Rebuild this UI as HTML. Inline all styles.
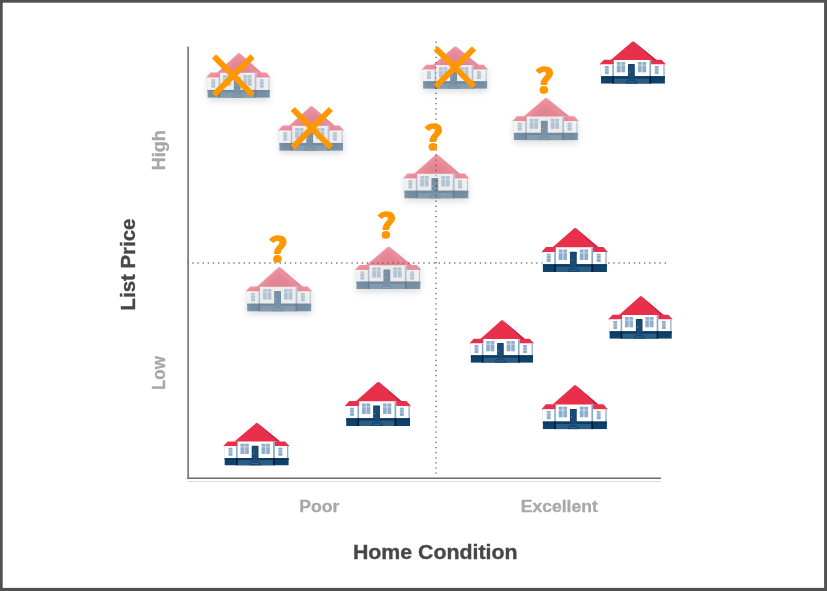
<!DOCTYPE html>
<html lang="en"><head><meta charset="utf-8"><title>Home Condition vs List Price</title>
<style>
html,body{margin:0;padding:0;background:#fff;}
body{width:827px;height:591px;overflow:hidden;position:relative;}
svg{display:block;position:absolute;left:0;top:0;}
text{font-family:"Liberation Sans",sans-serif;font-weight:bold;}
text.q{font-family:"Noto Sans CJK SC","Liberation Sans",sans-serif;font-weight:700;}
</style></head><body>
<svg width="827" height="591" viewBox="0 0 827 591">
<defs>
<filter id="blur" x="-30%" y="-40%" width="160%" height="190%"><feGaussianBlur stdDeviation="3.5"/></filter>

<symbol id="house" viewBox="0 0 66.6 42.5" preserveAspectRatio="none">
  <!-- side roofs -->
  <polygon points="4.6,18.5 16,18.5 16,23.4 0,23.4" fill="#e9304b"/>
  <polygon points="62,18.5 50,18.5 50,23.4 66.6,23.4" fill="#e9304b"/>
  <!-- side bodies -->
  <rect x="1.5" y="23.3" width="13" height="12" fill="#ffffff"/>
  <rect x="51.6" y="23.3" width="13.9" height="12" fill="#ffffff"/>
  <rect x="1" y="23.4" width="0.5" height="11.7" fill="#d3e0ec"/>
  <rect x="64" y="23.3" width="1.2" height="11.8" fill="#86a6c4"/>
  <!-- main body -->
  <rect x="14.4" y="18.3" width="37.3" height="17" fill="#ffffff"/>
  <rect x="12.9" y="23.3" width="1.6" height="11.8" fill="#86a9c9"/>
  <rect x="50" y="19" width="1.7" height="16.1" fill="#86a9c9"/>
  <!-- base -->
  <rect x="1.6" y="35.05" width="63.9" height="7.45" fill="#0e416b"/>
  <rect x="14.4" y="37.1" width="35.7" height="5.4" fill="#2b5d84"/>
  <rect x="1.6" y="35.05" width="63.9" height="2.05" fill="#0b3a64"/>
  <rect x="12.9" y="35.05" width="1.6" height="7.45" fill="#051c3d"/>
  <rect x="50" y="35.05" width="1.7" height="7.45" fill="#051c3d"/>
  <!-- steps -->
  <polygon points="27.9,38.4 36,38.4 36,40.1 38,40.1 38,42.5 26.3,42.5 26.3,40.1 27.9,40.1" fill="#174670"/>
  <rect x="28.3" y="40.4" width="7.4" height="0.6" fill="#4f7da3"/>
  <!-- door -->
  <rect x="28.6" y="22.9" width="6.8" height="14.7" rx="0.6" fill="#154068"/>
  <rect x="29.4" y="23.7" width="5.2" height="13.2" rx="0.4" fill="#1b4a74"/>
  <rect x="29.8" y="30.4" width="0.9" height="0.8" fill="#9fb9d2"/>
  <!-- windows: light backing then panes -->
  <g fill="#d0dde9">
    <rect x="17.45" y="20.85" width="8.25" height="10.15" rx="0.6"/>
    <rect x="38.5" y="20.85" width="8.2" height="10.15" rx="0.6"/>
    <rect x="5.5" y="24.9" width="3.8" height="7.9" rx="0.5"/>
    <rect x="55.4" y="24.9" width="3.8" height="7.9" rx="0.5"/>
  </g>
  <g fill="#8eaecb">
    <rect x="17.45" y="20.85" width="3.6" height="2.8" rx="0.5"/><rect x="22.2" y="20.85" width="3.5" height="2.8" rx="0.5"/>
    <rect x="17.45" y="24.4" width="3.6" height="6.6" rx="0.5"/><rect x="22.2" y="24.4" width="3.5" height="6.6" rx="0.5"/>
    <rect x="38.5" y="20.85" width="3.5" height="2.8" rx="0.5"/><rect x="43.2" y="20.85" width="3.5" height="2.8" rx="0.5"/>
    <rect x="38.5" y="24.4" width="3.5" height="6.6" rx="0.5"/><rect x="43.2" y="24.4" width="3.5" height="6.6" rx="0.5"/>
    <rect x="5.5" y="24.9" width="3.8" height="1.8" rx="0.4"/><rect x="5.5" y="27.2" width="3.8" height="2.3" rx="0.4"/><rect x="5.5" y="30" width="3.8" height="2.8" rx="0.4"/>
    <rect x="55.4" y="24.9" width="3.8" height="1.8" rx="0.4"/><rect x="55.4" y="27.2" width="3.8" height="2.3" rx="0.4"/><rect x="55.4" y="30" width="3.8" height="2.8" rx="0.4"/>
  </g>
  <!-- main roof -->
  <polygon points="33.3,0 11.3,18.7 55.9,18.7" fill="#e9304b"/>
  <polygon points="33.3,0 34.8,0.4 57.2,18.7 54.6,18.7" fill="#c9173f"/>
  <path d="M46.9,9.6 v-1.8 a1,1 0 0 1 2,0 v3.4" fill="none" stroke="#c3d5e6" stroke-width="0.6"/>
</symbol>

<symbol id="sil" viewBox="0 0 66.6 42.5" preserveAspectRatio="none">
  <polygon points="33.3,0 11.5,18.5 4.8,18.5 0,23.4 1.6,23.4 1.6,42.5 65.5,42.5 65.5,23.4 66.6,23.4 61.8,18.5 55.9,18.5" fill="#000"/>
</symbol>
</defs>
<rect x="0" y="0" width="827" height="591" fill="#ffffff"/>
<line x1="187.2" y1="262.9" x2="666" y2="262.9" stroke="#747474" stroke-width="1.5" stroke-dasharray="1.3 3.833"/>
<line x1="436.1" y1="41.4" x2="436.1" y2="477" stroke="#747474" stroke-width="1.5" stroke-dasharray="1.3 3.833"/>
<rect x="187.3" y="481" width="473.7" height="0.8" fill="#d2d2d2"/>
<rect x="187.25" y="46.5" width="1.8" height="432.5" fill="#808080"/>
<rect x="187.25" y="477.5" width="473.8" height="1.5" fill="#6c6c6c"/>
<use href="#sil" x="206.1" y="56.1" width="64.7" height="44.7" filter="url(#blur)" opacity="0.14"/>
<use href="#house" x="206.1" y="53.1" width="64.7" height="44.7" opacity="0.5"/>
<use href="#sil" x="277.9" y="109.1" width="66.2" height="44.7" filter="url(#blur)" opacity="0.14"/>
<use href="#house" x="277.9" y="106.1" width="66.2" height="44.7" opacity="0.5"/>
<use href="#sil" x="421.6" y="49.3" width="66.6" height="42.5" filter="url(#blur)" opacity="0.14"/>
<use href="#house" x="421.6" y="46.3" width="66.6" height="42.5" opacity="0.5"/>
<use href="#sil" x="512.3" y="100.9" width="66.6" height="42.4" filter="url(#blur)" opacity="0.14"/>
<use href="#house" x="512.3" y="97.9" width="66.6" height="42.4" opacity="0.5"/>
<use href="#sil" x="402.9" y="157.3" width="66.5" height="44.2" filter="url(#blur)" opacity="0.14"/>
<use href="#house" x="402.9" y="154.3" width="66.5" height="44.2" opacity="0.5"/>
<use href="#sil" x="354.9" y="249.6" width="66.5" height="42.5" filter="url(#blur)" opacity="0.14"/>
<use href="#house" x="354.9" y="246.6" width="66.5" height="42.5" opacity="0.5"/>
<use href="#sil" x="245.6" y="270.1" width="66.6" height="44.4" filter="url(#blur)" opacity="0.14"/>
<use href="#house" x="245.6" y="267.1" width="66.6" height="44.4" opacity="0.5"/>
<use href="#house" x="599.4" y="41.25" width="66.6" height="42.45"/>
<use href="#house" x="541.3" y="227.9" width="66.7" height="44.1"/>
<use href="#house" x="469.3" y="320.1" width="64.8" height="42.7"/>
<use href="#house" x="608.1" y="296.1" width="64.7" height="42.7"/>
<use href="#house" x="541.3" y="385.1" width="66.7" height="44.2"/>
<use href="#house" x="223.1" y="422.8" width="66.6" height="42.7"/>
<use href="#house" x="344.6" y="381.8" width="66.5" height="44.2"/>
<path d="M214.0,56.4 L252.5,94.9 M252.5,56.4 L214.0,94.9" stroke="#ff9800" stroke-width="5.9" fill="none"/>
<path d="M292.75,109.0 L330.9,147.4 M330.9,109.0 L292.75,147.4" stroke="#ff9800" stroke-width="5.9" fill="none"/>
<path d="M435.75,48.3 L474.05,86.5 M474.05,48.3 L435.75,86.5" stroke="#ff9800" stroke-width="5.9" fill="none"/>
<text class="q" transform="translate(544.60,93) scale(1.14,1)" font-size="32.4" text-anchor="middle" fill="#ff9800" stroke="#ff9800" stroke-width="1.6" stroke-linejoin="round">?</text>
<text class="q" transform="translate(433.45,150) scale(1.14,1)" font-size="32.4" text-anchor="middle" fill="#ff9800" stroke="#ff9800" stroke-width="1.6" stroke-linejoin="round">?</text>
<text class="q" transform="translate(386.50,238) scale(1.14,1)" font-size="32.4" text-anchor="middle" fill="#ff9800" stroke="#ff9800" stroke-width="1.6" stroke-linejoin="round">?</text>
<text class="q" transform="translate(277.95,262) scale(1.14,1)" font-size="32.4" text-anchor="middle" fill="#ff9800" stroke="#ff9800" stroke-width="1.6" stroke-linejoin="round">?</text>
<text x="299.26" y="511.9" font-size="17.4" fill="#a8a8a8" stroke="#a8a8a8" stroke-width="0.3" textLength="40.2" lengthAdjust="spacingAndGlyphs">Poor</text>
<text x="520.7" y="511.9" font-size="17.4" fill="#a8a8a8" stroke="#a8a8a8" stroke-width="0.3" textLength="77.2" lengthAdjust="spacingAndGlyphs">Excellent</text>
<text x="352.9" y="559.4" font-size="20.3" fill="#474747" stroke="#474747" stroke-width="0.35" textLength="164.7" lengthAdjust="spacingAndGlyphs">Home Condition</text>
<text transform="translate(134.7,310.43) rotate(-90)" font-size="20.3" fill="#474747" stroke="#474747" stroke-width="0.35" textLength="91.84" lengthAdjust="spacingAndGlyphs">List Price</text>
<text transform="translate(165,170.26) rotate(-90)" font-size="17.8" fill="#a8a8a8" stroke="#a8a8a8" stroke-width="0.3" textLength="39.97" lengthAdjust="spacingAndGlyphs">High</text>
<text transform="translate(165,390.03) rotate(-90)" font-size="17.8" fill="#a8a8a8" stroke="#a8a8a8" stroke-width="0.3" textLength="33.82" lengthAdjust="spacingAndGlyphs">Low</text>
<rect x="0" y="0" width="827" height="2.7" fill="#505050"/>
<rect x="0" y="0" width="2.7" height="591" fill="#505050"/>
<rect x="824.1" y="0" width="2.9" height="591" fill="#505050"/>
<rect x="0" y="587.9" width="827" height="3.1" fill="#505050"/>
</svg>
</body></html>
